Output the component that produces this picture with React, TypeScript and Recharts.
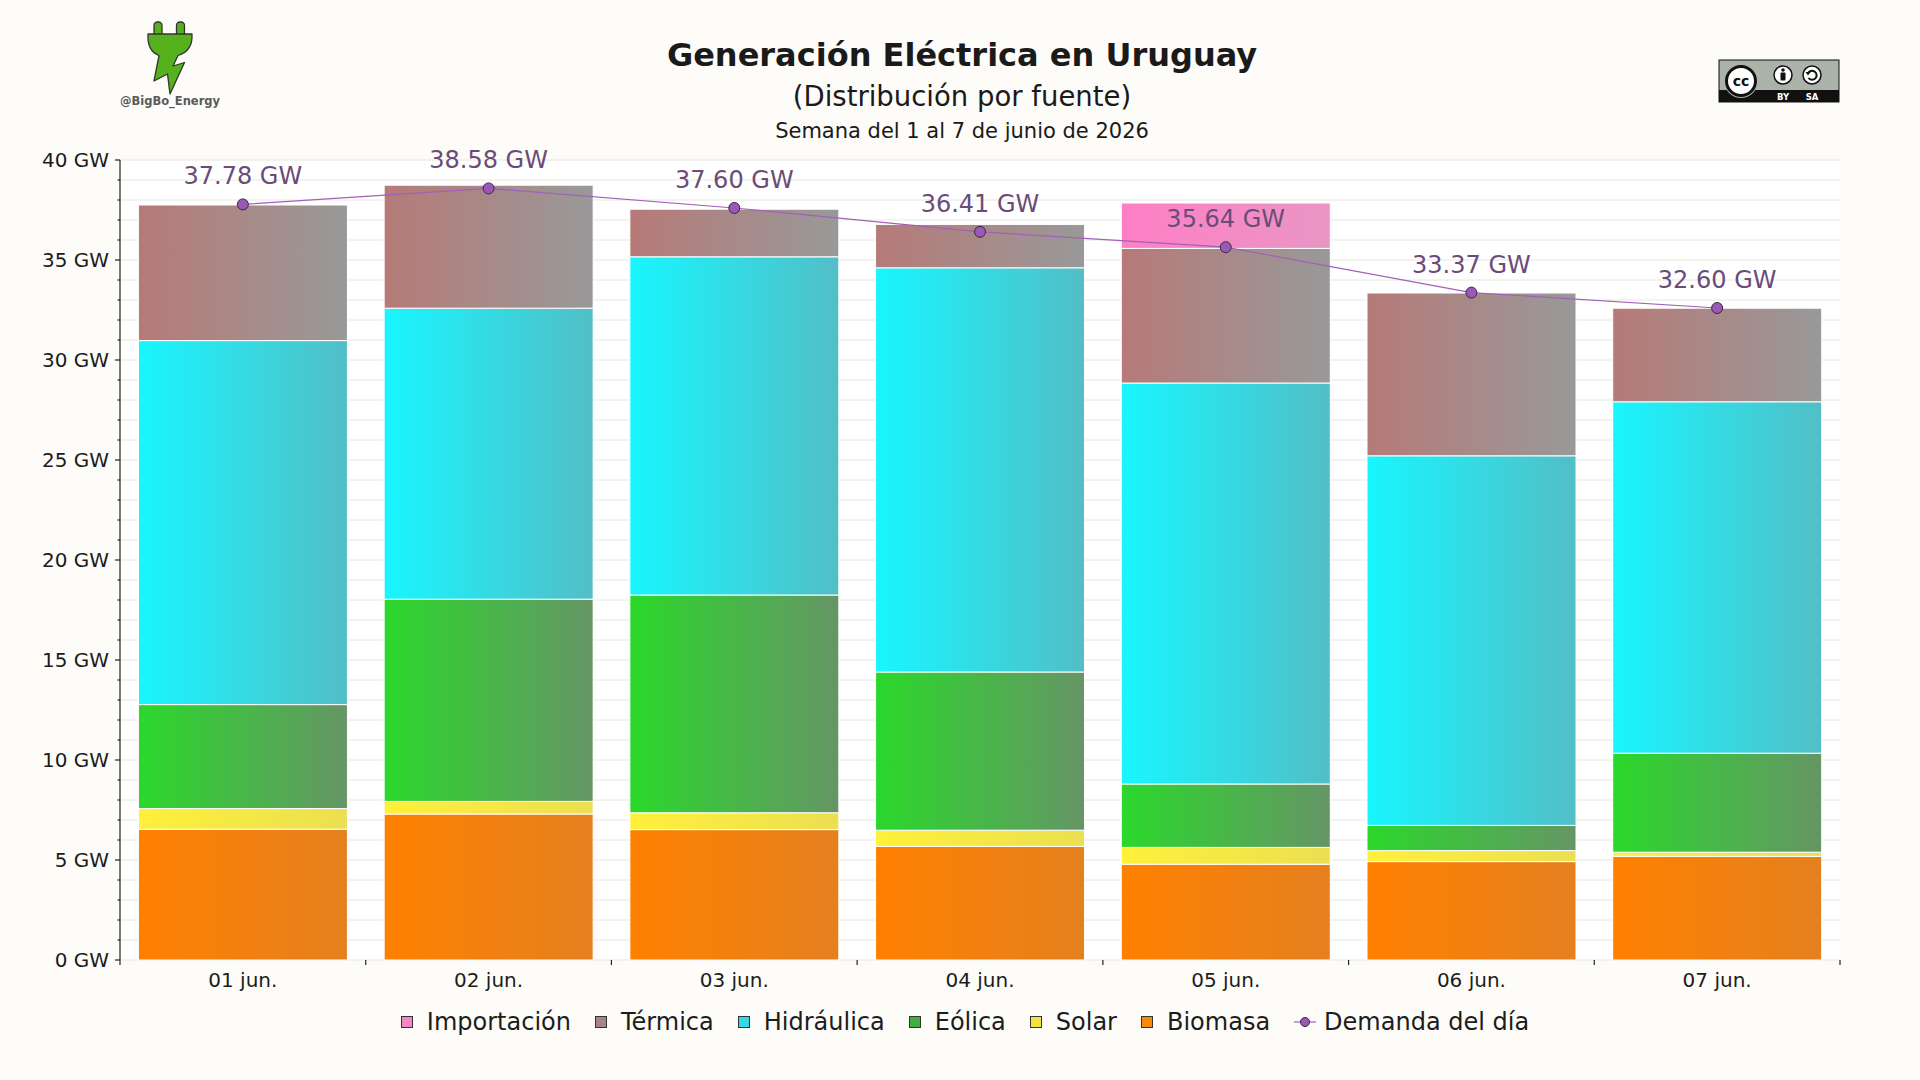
import React from "react";
import {
  Bar,
  CartesianGrid,
  ComposedChart,
  Line,
  XAxis,
  YAxis,
} from "recharts";

// Valores (GW)
const dias = ["01 jun.", "02 jun.", "03 jun.", "04 jun.", "05 jun.", "06 jun.", "07 jun."];
const biomasa = [6.54, 7.3, 6.52, 5.68, 4.79, 4.92, 5.18];
const solar = [1.03, 0.63, 0.84, 0.81, 0.84, 0.55, 0.21];
const eolica = [5.2, 10.11, 10.89, 7.91, 3.17, 1.26, 4.95];
const hidraulica = [18.2, 14.55, 16.91, 20.21, 20.05, 18.48, 17.57];
const termica = [6.78, 6.15, 2.38, 2.17, 6.73, 8.14, 4.68];
const importacion = [0, 0, 0, 0, 2.27, 0, 0];
const demanda = [37.78, 38.58, 37.6, 36.41, 35.64, 33.37, 32.6];
const yTicks = Array.from({ length: 41 }, (_, i) => i);

// Fuentes, de abajo hacia arriba
const fuentes = [
  { key: "biomasa", nombre: "Biomasa", desde: "#ff8000", hasta: "#e5801f", legend: "#f58a0c" },
  { key: "solar", nombre: "Solar", desde: "#fff03a", hasta: "#ebdf52", legend: "#f2e440" },
  { key: "eolica", nombre: "Eólica", desde: "#2bd82b", hasta: "#669566", legend: "#3fb03f" },
  { key: "hidraulica", nombre: "Hidráulica", desde: "#18f6ff", hasta: "#52bec6", legend: "#30d8e6" },
  { key: "termica", nombre: "Térmica", desde: "#b67a78", hasta: "#999999", legend: "#a58684" },
  { key: "importacion", nombre: "Importación", desde: "#ff7ec6", hasta: "#e996c4", legend: "#f588c4" },
];

const data = dias.map((dia, i) => ({
  dia,
  biomasa: biomasa[i],
  solar: solar[i],
  eolica: eolica[i],
  hidraulica: hidraulica[i],
  termica: termica[i],
  importacion: importacion[i],
  demanda: demanda[i],
}));

const FONT = "'DejaVu Sans', Verdana, sans-serif";
const W = 1920;
const H = 1080;
const X_HEIGHT = 30;
const MARGIN = { top: 160, right: 80, bottom: 120 - X_HEIGHT, left: 0 };
const Y_WIDTH = 120;
const BAND = (W - MARGIN.left - MARGIN.right - Y_WIDTH) / dias.length;

function YTick(props: any) {
  const { x, y, payload } = props;
  const major = payload.value % 5 === 0;
  return (
    <g>
      <line x1={x - (major ? 5 : 2.5)} x2={x} y1={y} y2={y} stroke="#222" strokeWidth={1.2} />
      {major && (
        <text x={x - 11} y={y} dy="0.36em" textAnchor="end" fontSize={20} fill="#1c1c1c" fontFamily={FONT}>
          {payload.value} GW
        </text>
      )}
    </g>
  );
}

function XTick(props: any) {
  const { x, y, payload, index } = props;
  const last = index === dias.length - 1;
  return (
    <g>
      <line x1={x - BAND / 2} x2={x - BAND / 2} y1={y} y2={y + 5} stroke="#222" strokeWidth={1.2} />
      {last && <line x1={x + BAND / 2} x2={x + BAND / 2} y1={y} y2={y + 5} stroke="#222" strokeWidth={1.2} />}
      <text x={x} y={y + 20} dy="0.36em" textAnchor="middle" fontSize={20} fill="#1c1c1c" fontFamily={FONT}>
        {payload.value}
      </text>
    </g>
  );
}

function DemandaLabel(props: any) {
  const { x, y, value } = props;
  return (
    <text x={x} y={y - 20} textAnchor="middle" fontSize={24} fill="#6a4c78" fontFamily={FONT}>
      {Number(value).toFixed(2)} GW
    </text>
  );
}

function Logo() {
  const s = { fill: "#56b21c", stroke: "#333", strokeWidth: 1.3, strokeLinejoin: "round" as const };
  return (
    <svg width={120} height={110} style={{ position: "absolute", left: 110, top: 10 }}>
      <g transform="translate(37,10)">
        <rect x={7} y={2} width={8} height={18} rx={3.5} {...s} />
        <rect x={29.5} y={2} width={8} height={18} rx={3.5} {...s} />
        <path
          d="M1 14 L45 14 Q46 31 31 35.5 L26 46 L37.5 42.5 L23 74 L20.5 54 L7 61 L12 35.5 Q0 31 1 14 Z"
          {...s}
        />
      </g>
      <text x={60} y={95} textAnchor="middle" fontSize={11.5} fontWeight="bold" fill="#5a5a5a" fontFamily={FONT}>
        @BigBo_Energy
      </text>
    </svg>
  );
}

function CcBadge() {
  return (
    <svg width={122} height={44} style={{ position: "absolute", left: 1718, top: 59 }}>
      <rect x={1} y={1} width={120} height={42} fill="#aab2aa" stroke="#111" strokeWidth={1} />
      <rect x={1} y={31} width={120} height={12} fill="#111" />
      <circle cx={23} cy={22} r={17} fill="#aab2aa" />
      <circle cx={23} cy={22} r={14.5} fill="#fff" stroke="#111" strokeWidth={3} />
      <text x={23} y={27} textAnchor="middle" fontSize={14} fontWeight="bold" fill="#111" fontFamily={FONT}>
        cc
      </text>
      <circle cx={65} cy={16} r={9} fill="#fff" stroke="#111" strokeWidth={1.5} />
      <circle cx={65} cy={11} r={1.8} fill="#111" />
      <rect x={62.5} y={13.5} width={5} height={8} rx={1} fill="#111" />
      <circle cx={94} cy={16} r={9} fill="#fff" stroke="#111" strokeWidth={1.5} />
      <path d="M90 14.5 A4.5 4.5 0 1 1 90.5 19" fill="none" stroke="#111" strokeWidth={2} />
      <path d="M87.5 13 L92.5 13 L90 16.5 Z" fill="#111" />
      <text x={65} y={40.5} textAnchor="middle" fontSize={8.5} fontWeight="bold" fill="#fff" fontFamily={FONT}>
        BY
      </text>
      <text x={94} y={40.5} textAnchor="middle" fontSize={8.5} fontWeight="bold" fill="#fff" fontFamily={FONT}>
        SA
      </text>
    </svg>
  );
}

function Leyenda() {
  const items = [...fuentes].reverse();
  return (
    <div
      style={{
        position: "absolute",
        left: 0,
        width: 1930,
        top: 1008,
        display: "flex",
        justifyContent: "center",
        alignItems: "center",
        fontFamily: FONT,
        fontSize: 24,
        color: "#1c1c1c",
        gap: 24,
      }}
    >
      {items.map((f) => (
        <div key={f.key} style={{ display: "flex", alignItems: "center", gap: 14 }}>
          <span
            style={{
              width: 10,
              height: 10,
              background: f.legend,
              border: "1px solid #333",
              display: "inline-block",
            }}
          />
          <span>{f.nombre}</span>
        </div>
      ))}
      <div style={{ display: "flex", alignItems: "center", gap: 8 }}>
        <svg width={22} height={12}>
          <line x1={0} x2={22} y1={6} y2={6} stroke="#a35fb8" strokeWidth={1.2} />
          <circle cx={11} cy={6} r={4.5} fill="#9b59b6" stroke="#3b2645" strokeWidth={1} />
        </svg>
        <span>Demanda del día</span>
      </div>
    </div>
  );
}

export default function App() {
  return (
    <div style={{ position: "relative", width: W, height: H, background: "#fdfcf8", fontFamily: FONT }}>
      <style>{"body{margin:0;background:#fdfcf8}"}</style>
      <Logo />
      <CcBadge />
      <div style={{ position: "absolute", top: 35, left: 0, width: 1924, textAlign: "center", fontSize: 32, fontWeight: "bold", color: "#1a1a1a", lineHeight: "40px" }}>
        Generación Eléctrica en Uruguay
      </div>
      <div style={{ position: "absolute", top: 78, left: 0, width: 1924, textAlign: "center", fontSize: 27.5, color: "#1a1a1a", lineHeight: "36px" }}>
        (Distribución por fuente)
      </div>
      <div style={{ position: "absolute", top: 118, left: 0, width: 1924, textAlign: "center", fontSize: 21, color: "#1a1a1a", lineHeight: "26px" }}>
        Semana del 1 al 7 de junio de 2026
      </div>
      <div style={{ position: "absolute", left: 0, top: 0 }}>
        <ComposedChart width={W} height={H} data={data} margin={MARGIN} barCategoryGap="7.5%">
          <defs>
            {fuentes.map((f) => (
              <linearGradient key={f.key} id={`grad-${f.key}`} x1="0" y1="0" x2="1" y2="0">
                <stop offset="0%" stopColor={f.desde} />
                <stop offset="100%" stopColor={f.hasta} />
              </linearGradient>
            ))}
          </defs>
          <CartesianGrid vertical={false} stroke="#e6e6df" strokeWidth={1} fill="#ffffff" />
          <XAxis
            dataKey="dia"
            height={X_HEIGHT}
            axisLine={false}
            tickLine={false}
            tickSize={0}
            tickMargin={0}
            interval={0}
            tick={<XTick />}
          />
          <YAxis
            width={Y_WIDTH}
            domain={[0, 40]}
            ticks={yTicks}
            interval={0}
            tickSize={0}
            tickMargin={0}
            tickLine={false}
            axisLine={{ stroke: "#222", strokeWidth: 1.2 }}
            tick={<YTick />}
          />
          {fuentes.map((f) => (
            <Bar
              key={f.key}
              dataKey={f.key}
              stackId="gen"
              fill={`url(#grad-${f.key})`}
              stroke="#ffffff"
              strokeWidth={1}
              isAnimationActive={false}
            />
          ))}
          <Line
            dataKey="demanda"
            stroke="#a35fb8"
            strokeWidth={1.2}
            dot={{ r: 5.5, fill: "#9b59b6", stroke: "#3b2645", strokeWidth: 1 }}
            label={<DemandaLabel />}
            isAnimationActive={false}
          />
        </ComposedChart>
      </div>
      <Leyenda />
    </div>
  );
}
